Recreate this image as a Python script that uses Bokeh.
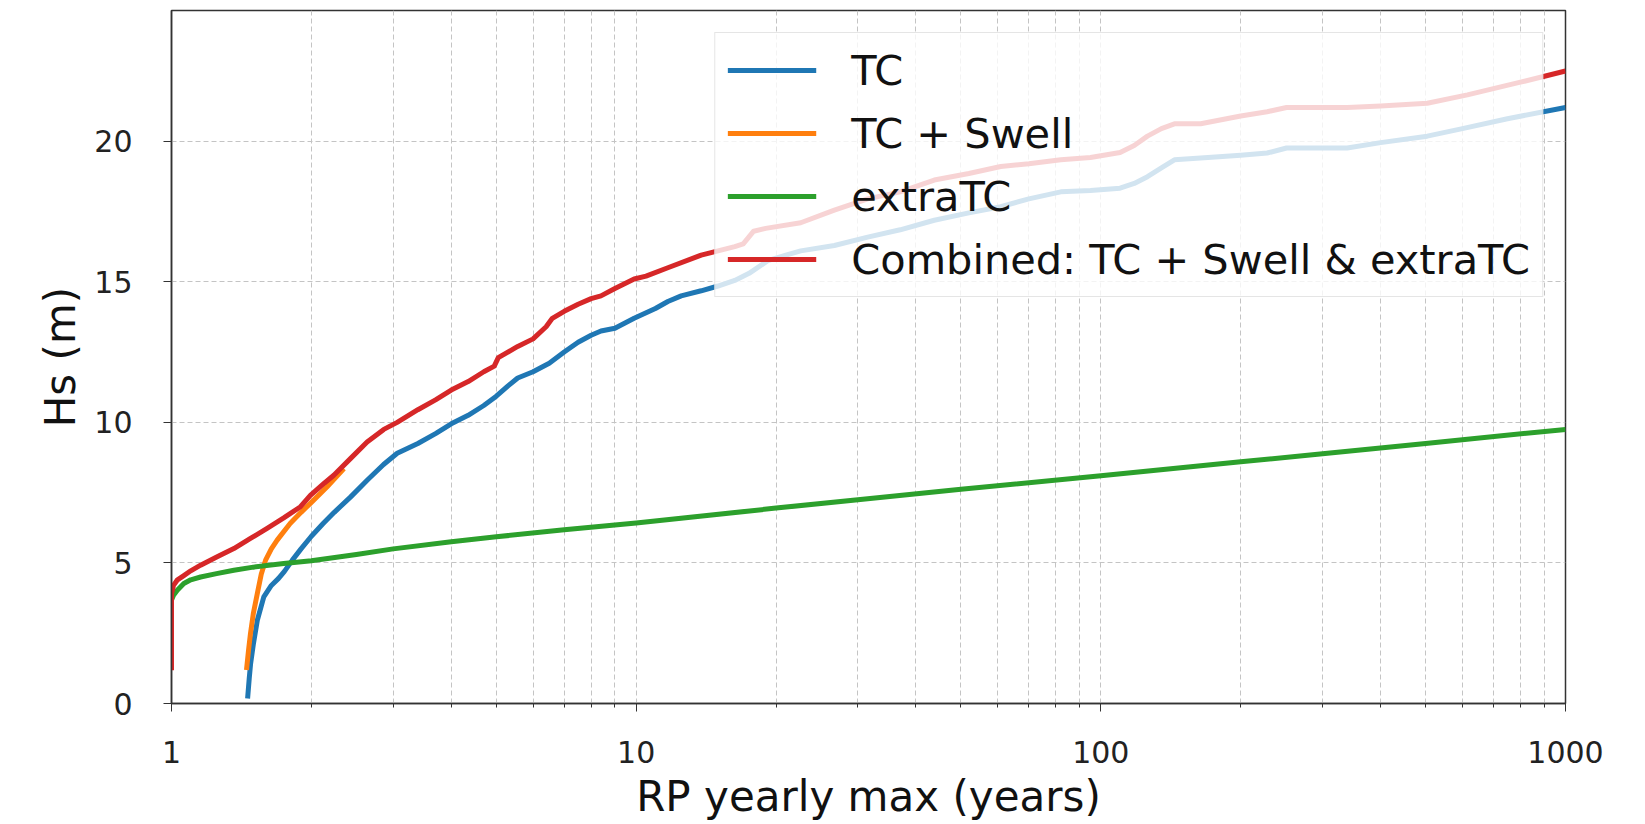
from bokeh.plotting import figure
from bokeh.models import Range1d, FixedTicker, Legend, LegendItem
from bokeh.embed import file_html
from bokeh.resources import INLINE

# ---------------- data ----------------
tc_rp = [1.458, 1.47, 1.48, 1.50, 1.53, 1.58, 1.64, 1.70, 1.75, 1.82, 1.90, 2.0, 2.12,
         2.24, 2.43, 2.64, 2.86, 3.06, 3.39, 3.7, 4.0, 4.35, 4.7, 5.0, 5.3, 5.56, 6.0,
         6.5, 7.0, 7.5, 8.0, 8.4, 9.0, 9.9, 11.0, 11.7, 12.5, 13.8, 15.0, 16.3, 17.5,
         19.2, 21.0, 22.6, 26.7, 31.5, 37, 43.8, 52, 60.9, 70, 82, 95, 110, 118, 126,
         135, 144, 170, 200, 228, 251, 300, 339, 400, 504, 600, 750, 1000]
tc_hs = [0.18, 0.9, 1.42, 2.1, 2.96, 3.79, 4.2, 4.45, 4.7, 5.1, 5.5, 5.95, 6.4,
         6.8, 7.35, 7.95, 8.5, 8.9, 9.25, 9.6, 9.95, 10.25, 10.6, 10.93, 11.3, 11.58, 11.8,
         12.1, 12.5, 12.85, 13.1, 13.25, 13.35, 13.7, 14.05, 14.3, 14.5, 14.68, 14.85, 15.05, 15.3,
         15.75, 15.95, 16.1, 16.29, 16.59, 16.85, 17.19, 17.45, 17.67, 17.95, 18.2, 18.25, 18.33, 18.5, 18.74,
         19.05, 19.34, 19.42, 19.5, 19.58, 19.76, 19.76, 19.76, 19.95, 20.18, 20.45, 20.8, 21.2]

swell_rp = [1.45, 1.465, 1.479, 1.50, 1.53, 1.56, 1.594, 1.64, 1.688, 1.80, 1.90, 1.99, 2.16, 2.35]
swell_hs = [1.19, 1.9, 2.49, 3.2, 3.91, 4.6, 5.1, 5.5, 5.81, 6.4, 6.8, 7.12, 7.7, 8.36]

etc_rp = [1.0, 1.01, 1.029, 1.063, 1.10, 1.155, 1.25, 1.362, 1.5, 1.744, 2.0, 2.5, 3.0,
          4.0, 5.0, 7.0, 10, 20, 30, 50, 100, 200, 300, 500, 1000]
etc_hs = [3.68, 3.85, 4.03, 4.27, 4.4, 4.5, 4.62, 4.74, 4.85, 4.98, 5.08, 5.3, 5.5,
          5.75, 5.93, 6.18, 6.42, 6.95, 7.25, 7.62, 8.1, 8.6, 8.88, 9.25, 9.75]

comb_rp = [1.0, 1.0, 1.01, 1.03, 1.063, 1.10, 1.155, 1.254, 1.362, 1.479, 1.606, 1.744,
           1.895, 1.99, 2.12, 2.235, 2.427, 2.636, 2.863, 3.06, 3.39, 3.7, 4.0, 4.35, 4.7,
           4.95, 5.05, 5.56, 6.0, 6.4, 6.6, 7.0, 7.5, 8.0, 8.4, 9.0, 9.9, 10.5, 11.7, 13.8,
           16.3, 17.0, 17.9, 19.0, 22.6, 26.7, 31.5, 37, 43.8, 52, 60.9, 70, 82, 95, 110,
           118, 126, 135, 144, 164, 200, 228, 251, 339, 400, 504, 615, 800, 1000]
comb_hs = [1.18, 3.9, 4.2, 4.4, 4.55, 4.72, 4.92, 5.22, 5.51, 5.87, 6.23, 6.6,
           7.0, 7.4, 7.8, 8.12, 8.71, 9.3, 9.75, 10.0, 10.45, 10.8, 11.15, 11.45, 11.8,
           12.0, 12.3, 12.7, 12.97, 13.4, 13.7, 13.95, 14.2, 14.4, 14.5, 14.76, 15.1, 15.2, 15.5, 15.95,
           16.25, 16.35, 16.8, 16.9, 17.1, 17.55, 17.95, 18.2, 18.62, 18.85, 19.1, 19.2, 19.34, 19.42, 19.6,
           19.85, 20.18, 20.45, 20.62, 20.62, 20.9, 21.05, 21.2, 21.2, 21.25, 21.35, 21.65, 22.1, 22.5]

series_names = ["TC", "TC + Swell", "extraTC", "Combined: TC + Swell & extraTC"]
series_colors = ["#1f77b4", "#ff7f0e", "#2ca02c", "#d62728"]

x_ticks = [1, 10, 100, 1000]
x_tick_labels = ["1", "10", "100", "1000"]
y_ticks = [0, 5, 10, 15, 20]

FONT = "DejaVu Sans"

p = figure(
    x_axis_type="log",
    x_range=Range1d(1, 1000),
    y_range=Range1d(0, 24.65),
    frame_width=1394, frame_height=693,
    min_border_left=171, min_border_right=72, min_border_top=10, min_border_bottom=118,
    output_backend="svg", toolbar_location=None,
    background_fill_color="white", border_fill_color="white",
)

renderers = []
for xs, ys, c in [(tc_rp, tc_hs, series_colors[0]), (swell_rp, swell_hs, series_colors[1]),
                  (etc_rp, etc_hs, series_colors[2]), (comb_rp, comb_hs, series_colors[3])]:
    r = p.line(xs, ys, line_color=c, line_width=5, line_join="round", line_cap="butt")
    renderers.append(r)

# axes
minor = [m * d for d in (1, 10, 100) for m in range(2, 10)]
p.xaxis.ticker = FixedTicker(ticks=x_ticks, minor_ticks=minor)
p.xaxis.major_label_overrides = dict(zip(x_ticks, x_tick_labels))
p.yaxis.ticker = FixedTicker(ticks=y_ticks)

for ax in (p.xaxis[0], p.yaxis[0]):
    ax.major_label_text_font = FONT
    ax.major_label_text_font_size = "30px"
    ax.major_label_text_color = "#222222"
    ax.axis_label_text_font = FONT
    ax.axis_label_text_font_size = "42px"
    ax.axis_label_text_font_style = "normal"
    ax.axis_label_text_color = "#111111"
    ax.axis_line_color = "#333333"
    ax.axis_line_width = 1.5
    ax.major_tick_line_color = "#333333"
    ax.major_tick_out = 8
    ax.major_tick_in = 0
    ax.minor_tick_line_color = "#333333"
    ax.minor_tick_out = 4
    ax.minor_tick_in = 0

p.yaxis.minor_tick_line_color = None
p.xaxis.axis_label = "RP yearly max (years)"
p.yaxis.axis_label = "Hs (m)"
p.xaxis.major_label_standoff = 29
p.xaxis.axis_label_standoff = 6
p.yaxis.major_label_standoff = 31
p.yaxis.axis_label_standoff = 6

p.outline_line_color = "#333333"
p.outline_line_width = 1.5

# grids
for g in (p.xgrid[0], p.ygrid[0]):
    g.grid_line_color = "#c4c4c4"
    g.grid_line_dash = "5 3"
    g.grid_line_width = 1
p.xgrid.minor_grid_line_color = "#c4c4c4"
p.xgrid.minor_grid_line_dash = "5 3"
p.xgrid.minor_grid_line_width = 1

legend = Legend(
    items=[LegendItem(label=n, renderers=[r]) for n, r in zip(series_names, renderers)],
    location="top_right",
    margin=22,
    padding=12,
    spacing=13,
    glyph_width=89,
    glyph_height=50,
    label_height=50,
    label_standoff=35,
    label_text_font=FONT,
    label_text_font_size="41.5px",
    label_text_color="#111111",
    background_fill_color="white",
    background_fill_alpha=0.8,
    border_line_color="#cccccc",
    border_line_width=1.5,
)
p.add_layout(legend, "center")

open("out.html", "w").write(file_html(p, INLINE))
